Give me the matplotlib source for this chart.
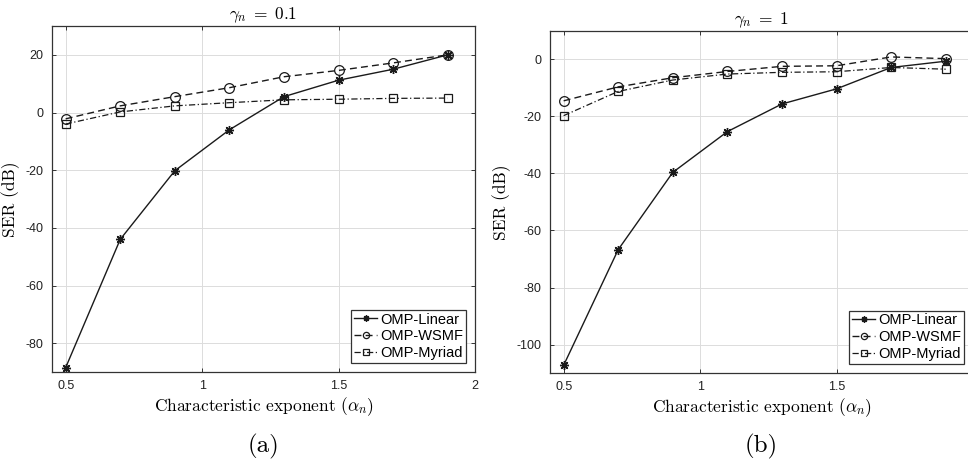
import matplotlib
matplotlib.use("Agg")
import matplotlib.pyplot as plt

alpha = [0.5, 0.7, 0.9, 1.1, 1.3, 1.5, 1.7, 1.9]

# gamma_n = 0.1
lin_a = [-88.5, -44.0, -20.2, -6.0, 5.5, 11.2, 15.0, 20.0]
wsmf_a = [-2.2, 2.3, 5.5, 8.6, 12.4, 14.6, 17.2, 20.0]
myr_a = [-4.0, 0.2, 2.3, 3.4, 4.4, 4.6, 4.9, 5.0]

# gamma_n = 1
lin_b = [-107.3, -66.7, -39.6, -25.3, -15.6, -10.3, -2.8, -0.6]
wsmf_b = [-14.5, -9.6, -6.4, -4.2, -2.4, -2.2, 0.9, 0.3]
myr_b = [-19.7, -11.2, -7.2, -5.1, -4.5, -4.3, -2.8, -3.4]

labels = ["OMP-Linear", "OMP-WSMF", "OMP-Myriad"]
titles = [r"$\gamma_n \;=\; 0.1$", r"$\gamma_n \;=\; 1$"]
captions = ["(a)", "(b)"]
xticks = [0.5, 1, 1.5, 2]
xticklabels = ["0.5", "1", "1.5", "2"]
yticks_a = [-80, -60, -40, -20, 0, 20]
yticks_b = [-100, -80, -60, -40, -20, 0]

plt.rcParams["mathtext.fontset"] = "cm"
W, H = 968, 470
fig = plt.figure(figsize=(W / 100, H / 100), dpi=100)

def px_axes(l, t, r, b):
    return fig.add_axes([l / W, 1 - b / H, (r - l) / W, (b - t) / H])

ax_a = px_axes(52, 26, 475, 372)
ax_b = px_axes(550, 31, 973, 373)

serif = dict(family="cmr10")
tickfont = ["Liberation Sans", "DejaVu Sans"]

def draw(ax, lin, wsmf, myr, ylim, yticks, title, caption):
    ax.plot(alpha, lin, color="#1a1a1a", lw=1.0, ls="-", marker=(8, 2, 0),
            ms=6.5, mew=1.0, label=labels[0])
    ax.plot(alpha, wsmf, color="#1a1a1a", lw=1.0, ls=(0, (5, 3)), marker="o",
            ms=7, mfc="none", mew=0.9, label=labels[1])
    ax.plot(alpha, myr, color="#1a1a1a", lw=0.9, ls=(0, (5, 2, 1, 2)), marker="s",
            ms=5.5, mfc="none", mew=0.9, label=labels[2])
    ax.set_xlim(0.45, 2)
    ax.set_ylim(*ylim)
    ax.set_xticks(xticks)
    ax.set_xticklabels(xticklabels)
    ax.set_yticks(yticks)
    ax.set_yticklabels([str(v) for v in yticks])
    ax.grid(True, color="#dcdcdc", lw=0.7)
    ax.set_axisbelow(True)
    for s in ax.spines.values():
        s.set_color("#333333")
        s.set_linewidth(0.9)
    ax.tick_params(direction="in", length=3, width=0.7, color="#333333",
                   top=True, right=True, labelsize=9, labelcolor="#222222", pad=6)
    for lab in ax.get_xticklabels() + ax.get_yticklabels():
        lab.set_family(tickfont)
    ax.set_title(title, fontsize=12.5, pad=5)
    ax.set_xlabel(r"Characteristic exponent ($\alpha_n$)", fontsize=12.5, labelpad=2, **serif)
    ax.set_ylabel("SER (dB)", fontsize=12.5, labelpad=4, **serif)
    leg = ax.legend(loc="lower right", prop={"family": tickfont, "size": 10.5},
                    fancybox=False, edgecolor="#333333", framealpha=1,
                    handlelength=1.6, handletextpad=0.2, borderpad=0.2,
                    labelspacing=0.2, borderaxespad=0.6)
    leg.get_frame().set_linewidth(0.9)
    for h in leg.legend_handles:
        h.set_markersize(4.5)
    ax.text(0.5, -0.215, caption, transform=ax.transAxes, ha="center", va="center",
            fontsize=18, **serif)

draw(ax_a, lin_a, wsmf_a, myr_a, (-90, 30), yticks_a, titles[0], captions[0])
draw(ax_b, lin_b, wsmf_b, myr_b, (-110, 10), yticks_b, titles[1], captions[1])

fig.savefig("out.png", dpi=100, facecolor="white")
